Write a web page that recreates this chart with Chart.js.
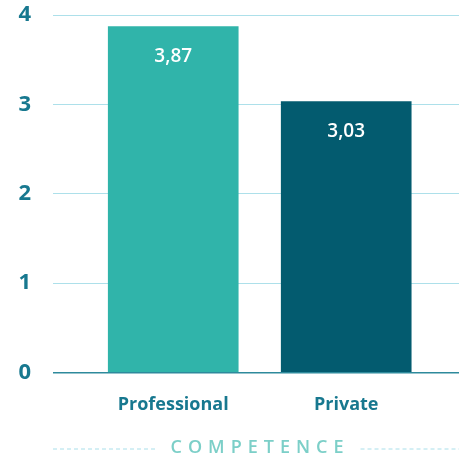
<!DOCTYPE html>
<html>
<head>
<meta charset="utf-8">
<script src="https://cdn.jsdelivr.net/npm/chart.js@4.4.1/dist/chart.umd.min.js"></script>
<style>
  html, body { margin: 0; padding: 0; background: #ffffff; }
  #wrap { width: 459px; height: 457px; }
</style>
</head>
<body>
<div id="wrap"><canvas id="competenceChart"></canvas></div>
<script>
// Average competence score per group
const categories = ['Professional', 'Private'];
const scores = [3.87, 3.03];
const barColors = ['#30b4aa', '#035b6f'];
const yTicks = [0, 1, 2, 3, 4];
const axisTitle = 'COMPETENCE';

const FONT = "'Open Sans', 'Noto Sans', sans-serif";
const TEXT_BLUE = '#17788f';

// white value labels inside the top of each bar
const valueLabels = {
    id: 'valueLabels',
    afterDatasetsDraw(chart) {
        const ctx = chart.ctx;
        const meta = chart.getDatasetMeta(0);
        ctx.save();
        ctx.fillStyle = '#ffffff';
        ctx.font = "600 19px " + FONT;
        ctx.textAlign = 'center';
        ctx.textBaseline = 'middle';
        meta.data.forEach((bar, i) => {
            const txt = scores[i].toFixed(2).replace('.', ',');
            ctx.fillText(txt, bar.x, bar.y + 30);
        });
        ctx.restore();
    }
};

// spaced-out axis title with dashed rules on both sides
const dashedTitle = {
    id: 'dashedTitle',
    afterDraw(chart) {
        const ctx = chart.ctx;
        const area = chart.chartArea;
        const y = chart.height - 9;
        const cx = (area.left + area.right) / 2 + 1;
        ctx.save();
        ctx.font = "600 18px " + FONT;
        ctx.letterSpacing = '6px';
        ctx.fillStyle = '#7ccfc8';
        ctx.textAlign = 'center';
        ctx.textBaseline = 'middle';
        const w = ctx.measureText(axisTitle).width;
        ctx.fillText(axisTitle, cx + 3, y);
        ctx.strokeStyle = '#a9dfea';
        ctx.lineWidth = 1;
        ctx.setLineDash([4, 3]);
        ctx.beginPath();
        ctx.moveTo(area.left, y + 1);
        ctx.lineTo(cx - w / 2 - 12, y + 1);
        ctx.moveTo(cx + w / 2 + 14, y + 1);
        ctx.lineTo(area.right, y + 1);
        ctx.stroke();
        ctx.restore();
    }
};

new Chart(document.getElementById('competenceChart'), {
    type: 'bar',
    data: {
        datasets: [{
            data: scores.map((v, i) => ({ x: i + 1, y: v })),
            backgroundColor: barColors,
            borderWidth: 0,
            barThickness: 130
        }]
    },
    options: {
        responsive: true,
        maintainAspectRatio: false,
        animation: false,
        layout: { padding: { top: 15, right: 0, bottom: 27, left: 0 } },
        plugins: {
            legend: { display: false },
            tooltip: { enabled: false }
        },
        scales: {
            x: {
                type: 'linear',
                offset: false,
                min: 0.305,
                max: 2.652,
                afterBuildTicks(scale) {
                    scale.ticks = categories.map((c, i) => ({ value: i + 1 }));
                },
                grid: { display: false },
                border: { display: false },
                ticks: {
                    color: TEXT_BLUE,
                    font: { family: FONT, size: 18, weight: 'bold' },
                    padding: 14,
                    maxRotation: 0,
                    autoSkip: false,
                    callback: (v) => categories[v - 1]
                }
            },
            y: {
                min: 0,
                max: 4,
                afterBuildTicks(scale) {
                    scale.ticks = yTicks.map(v => ({ value: v }));
                },
                afterFit(scale) {
                    scale.width = 53;
                },
                border: { display: false },
                grid: {
                    drawTicks: true,
                    tickLength: 22,
                    tickColor: 'transparent',
                    color: (c) => c.tick && c.tick.value === 0 ? '#2e8a9c' : '#ade0ea',
                    lineWidth: (c) => c.tick && c.tick.value === 0 ? 1.5 : 1
                },
                ticks: {
                    color: TEXT_BLUE,
                    font: { family: FONT, size: 22, weight: 'bold' },
                    padding: 0
                }
            }
        }
    },
    plugins: [valueLabels, dashedTitle]
});
</script>
</body>
</html>
